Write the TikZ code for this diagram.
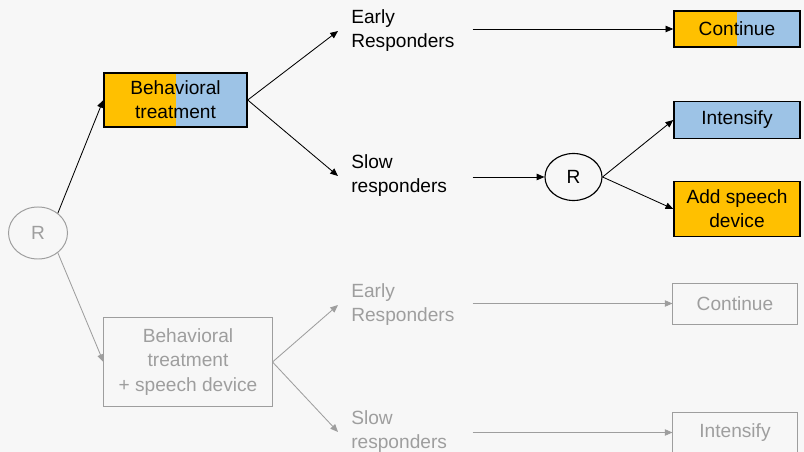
\documentclass[tikz,border=0pt]{standalone}
\usepackage{fontspec}
\setmainfont{Liberation Sans}
\usetikzlibrary{arrows.meta,shapes.geometric,positioning}

\definecolor{bgcol}{HTML}{F7F7F7}
\definecolor{stageorange}{HTML}{FFC000}
\definecolor{stageblue}{HTML}{9DC3E6}
\definecolor{faded}{HTML}{9E9E9E}

\begin{document}
\begin{tikzpicture}[x=0.025cm, y=-0.025cm,
                    every node/.style={font=\fontsize{13.6}{17}\selectfont},
                    >={Triangle[length=5.5pt,width=4.6pt]},
                    randnode/.style={ellipse, draw, line width=0.8pt, inner sep=0pt},
                    stagebox/.style={rectangle, draw, line width=1pt, align=center, inner sep=0pt},
                    splitbox/.style={stagebox, fill=stageblue,
                        path picture={\fill[stageorange] (path picture bounding box.south west)
                                      rectangle (path picture bounding box.north);}},
                    respnode/.style={anchor=west, align=left, text width=2.7cm, inner xsep=0.325cm},
                    link/.style={->, line width=0.6pt},
                    dim/.style={draw=faded, text=faded, line width=0.7pt}]
    \path[use as bounding box, fill=bgcol] (0,0) rectangle (804,452);
    \clip (0,0) rectangle (804,452);

   % first randomisation
   \node[randnode, dim, minimum width=1.475cm, minimum height=1.3cm] (r1) at (38,233) {R};

   % upper arm
   \node[splitbox, minimum width=3.575cm, minimum height=1.35cm] (behav) at (175.5,100) {Behavioral\\treatment};
   \node[respnode] (early1) at (338,31) {Early\\Responders};
   \node[respnode] (slow1) at (338,176) {Slow\\responders};
   \node[splitbox, minimum width=3.15cm, minimum height=0.9cm] (cont1) at (737,29) {Continue};
   \node[randnode, minimum width=1.425cm, minimum height=1.175cm] (r2) at (573.5,177) {R};
   \node[stagebox, fill=stageblue, minimum width=3.15cm, minimum height=0.925cm] (intens1) at (737,120) {Intensify};
   \node[stagebox, fill=stageorange, minimum width=3.15cm, minimum height=1.375cm] (addsd) at (737,209) {Add speech\\device};

   % lower arm
   \node[stagebox, dim, minimum width=4.2cm, minimum height=2.2cm, font=\fontsize{13.6}{17.4}\selectfont] (behavsd) at (188,362) {Behavioral\\treatment\\+ speech device};
   \node[respnode, text=faded] (early2) at (338,305) {Early\\Responders};
   \node[respnode, text=faded] (slow2) at (338,432) {Slow\\responders};
   \node[stagebox, dim, minimum width=3.1cm, minimum height=1.025cm] (cont2) at (735,303.5) {Continue};
   \node[stagebox, dim, minimum width=3.1cm, minimum height=1.025cm] (intens2) at (735,432.5) {Intensify};

   % Define transitions
   \draw[link] (r1.45) -- (behav.west);
   \draw[link] (behav.east) -- (early1.west);
   \draw[link] (behav.east) -- (slow1.west);
   \draw[link] (early1.east |- cont1.west) -- (cont1.west);
   \draw[link] (slow1.east |- r2.west) -- (r2.west);
   \draw[link] (r2.east) -- (intens1.west);
   \draw[link] (r2.east) -- (addsd.west);

   \draw[link, faded] (r1.-45) -- (behavsd.west);
   \draw[link, faded] (behavsd.east) -- (early2.west);
   \draw[link, faded] (behavsd.east) -- (slow2.west);
   \draw[link, faded] (early2.east |- cont2.west) -- (cont2.west);
   \draw[link, faded] (slow2.east |- intens2.west) -- (intens2.west);

\end{tikzpicture}
\end{document}
